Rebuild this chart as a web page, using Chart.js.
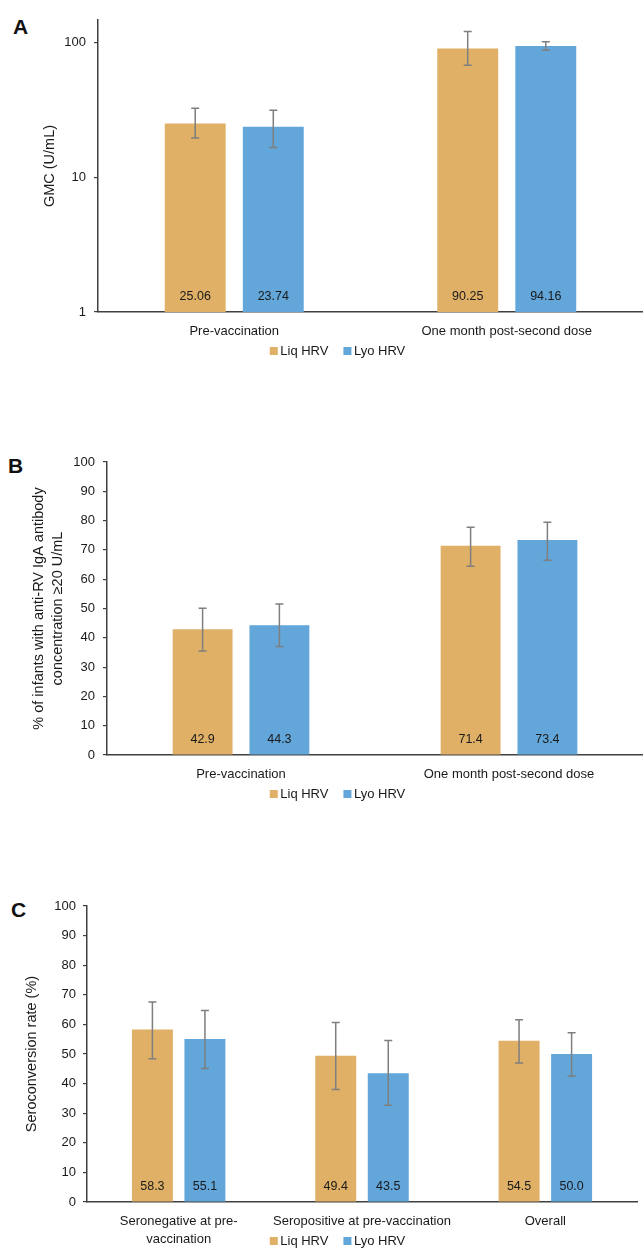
<!DOCTYPE html>
<html>
<head>
<meta charset="utf-8">
<script src="https://cdn.jsdelivr.net/npm/chart.js@4"></script>
<style>
  html, body { margin: 0; padding: 0; background: #fff; }
  #page { position: relative; width: 643px; height: 1250px; overflow: hidden; }
  .panel { position: absolute; left: 0; }
  .letter { position: absolute; font: bold 21px/21px Arial, "Liberation Sans", sans-serif; color: #111; }
</style>
</head>
<body>
<div id="page">
  <div class="letter" style="left:13px; top:16px;">A</div>
  <div class="letter" style="left:8px; top:455px;">B</div>
  <div class="letter" style="left:11px; top:899px;">C</div>
  <canvas id="chartA" class="panel" style="top:0px" width="643" height="370"></canvas>
  <canvas id="chartB" class="panel" style="top:420px" width="643" height="400"></canvas>
  <canvas id="chartC" class="panel" style="top:860px" width="643" height="390"></canvas>
</div>
<script>
const seriesNames = ['Liq HRV', 'Lyo HRV'];

// A: GMC
const visitLabels = ['Pre-vaccination', 'One month post-second dose'];
const liqGmc = [25.06, 90.25];
const lyoGmc = [23.74, 94.16];
const liqGmcLo = [19.6, 67.8];
const liqGmcHi = [32.5, 121];
const lyoGmcLo = [16.6, 87.7];
const lyoGmcHi = [31.4, 101.2];
const gmcTicks = [1, 10, 100];

// B: % >= 20 U/mL
const liqPct = [42.9, 71.4];
const lyoPct = [44.3, 73.4];
const liqPctLo = [35.5, 64.4];
const liqPctHi = [50.1, 77.7];
const lyoPctLo = [37.0, 66.5];
const lyoPctHi = [51.5, 79.4];

// C: seroconversion
const statusLabels = [['Seronegative at pre-', 'vaccination'], 'Seropositive at pre-vaccination', 'Overall'];
const liqSc = [58.3, 49.4, 54.5];
const lyoSc = [55.1, 43.5, 50.0];
const liqScLo = [48.4, 38.0, 47.0];
const liqScHi = [67.6, 60.6, 61.6];
const lyoScLo = [45.1, 32.7, 42.6];
const lyoScHi = [64.7, 54.6, 57.2];

const colors = ['#DFB066', '#62A6DA'];
const axisColor = '#404040';
const FONT = 'Arial, "Liberation Sans", sans-serif';

Chart.defaults.font.family = FONT;
Chart.defaults.font.size = 13;
Chart.defaults.color = '#1a1a1a';

const errorBars = {
  id: 'errorBars',
  afterDatasetsDraw(chart) {
    const ctx = chart.ctx, y = chart.scales.y;
    ctx.save();
    ctx.strokeStyle = '#7f7f7f';
    ctx.lineWidth = 1.5;
    chart.data.datasets.forEach((ds, i) => {
      chart.getDatasetMeta(i).data.forEach((bar, j) => {
        const top = y.getPixelForValue(ds.hi[j]);
        const bot = y.getPixelForValue(ds.lo[j]);
        ctx.beginPath();
        ctx.moveTo(bar.x, top); ctx.lineTo(bar.x, bot);
        ctx.moveTo(bar.x - 4, top); ctx.lineTo(bar.x + 4, top);
        ctx.moveTo(bar.x - 4, bot); ctx.lineTo(bar.x + 4, bot);
        ctx.stroke();
      });
    });
    ctx.restore();
  }
};

const valueLabels = {
  id: 'valueLabels',
  afterDatasetsDraw(chart, args, opts) {
    const ctx = chart.ctx, bottom = chart.chartArea.bottom;
    ctx.save();
    ctx.font = '12.5px ' + FONT;
    ctx.fillStyle = '#1a1a1a';
    ctx.textAlign = 'center';
    ctx.textBaseline = 'middle';
    chart.data.datasets.forEach((ds, i) => {
      chart.getDatasetMeta(i).data.forEach((bar, j) => {
        ctx.fillText(ds.data[j].toFixed(opts.digits), bar.x, bottom - 15.5);
      });
    });
    ctx.restore();
  }
};

const boxLegend = {
  id: 'boxLegend',
  afterDraw(chart, args, opts) {
    const ctx = chart.ctx;
    const y = chart.chartArea.bottom + 39;
    ctx.save();
    ctx.font = '13px ' + FONT;
    ctx.textBaseline = 'middle';
    const items = chart.data.datasets.map(ds => ({ label: ds.label, color: ds.backgroundColor, w: ctx.measureText(ds.label).width }));
    const box = 8, gap = 2.5, space = 15;
    let total = items.reduce((s, it) => s + box + gap + it.w, 0) + space * (items.length - 1);
    let x = opts.cx - total / 2;
    items.forEach(it => {
      ctx.fillStyle = it.color;
      ctx.fillRect(x, y - box / 2, box, box);
      ctx.fillStyle = '#1a1a1a';
      ctx.fillText(it.label, x + box + gap, y);
      x += box + gap + it.w + space;
    });
    ctx.restore();
  }
};

function makeDatasets(vals, los, his) {
  return seriesNames.map((name, i) => ({
    label: name,
    data: vals[i],
    lo: los[i],
    hi: his[i],
    backgroundColor: colors[i],
    borderWidth: 0,
    categoryPercentage: 0.573,
    barPercentage: 0.78
  }));
}

function makeChart(id, cfg) {
  return new Chart(document.getElementById(id), {
    type: 'bar',
    data: { labels: cfg.labels, datasets: cfg.datasets },
    plugins: [errorBars, valueLabels, boxLegend],
    options: {
      responsive: false,
      animation: false,
      layout: { padding: { top: cfg.top, right: cfg.right, left: 0, bottom: 0 } },
      plugins: {
        legend: { display: false },
        tooltip: { enabled: false },
        valueLabels: { digits: cfg.digits },
        boxLegend: { cx: 337.5 }
      },
      scales: {
        x: {
          grid: { display: false, drawTicks: false },
          border: { display: true, color: axisColor, width: 1.5 },
          ticks: { padding: 10.5, autoSkip: false, maxRotation: 0, font: { size: 13, lineHeight: 1.4 }, color: '#1a1a1a' },
          afterFit(s) { s.height = cfg.xHeight; }
        },
        y: Object.assign({
          grid: { drawOnChartArea: false, drawTicks: true, tickLength: 4, color: axisColor, lineWidth: 1.2 },
          border: { display: true, color: axisColor, width: 1.5 },
          ticks: { padding: cfg.tickPad, font: { size: 13 }, color: '#1a1a1a' },
          title: {
            display: true, text: cfg.title, color: '#1a1a1a',
            font: { size: 14.5, lineHeight: cfg.titleLH },
            padding: { top: cfg.titlePad, bottom: 0 }
          },
          afterFit(s) { s.width = cfg.yWidth; }
        }, cfg.y)
      }
    }
  });
}

makeChart('chartA', {
  labels: visitLabels,
  datasets: makeDatasets([liqGmc, lyoGmc], [liqGmcLo, lyoGmcLo], [liqGmcHi, lyoGmcHi]),
  top: 20, right: 0, xHeight: 58, yWidth: 98, tickPad: 8,
  title: 'GMC (U/mL)', titleLH: 1.2, titlePad: 41.3, digits: 2,
  y: {
    type: 'logarithmic', min: 1, max: 147,
    afterBuildTicks(s) { s.ticks = gmcTicks.map(v => ({ value: v })); }
  }
});

makeChart('chartB', {
  labels: visitLabels,
  datasets: makeDatasets([liqPct, lyoPct], [liqPctLo, lyoPctLo], [liqPctHi, lyoPctHi]),
  top: 42, right: 0, xHeight: 65, yWidth: 107, tickPad: 8,
  title: ['% of infants with anti-RV IgA antibody', 'concentration \u226520 U/mL'], titleLH: 1.3, titlePad: 29.5, digits: 1,
  y: { min: 0, max: 100, ticks: { stepSize: 10, padding: 8, font: { size: 13 }, color: '#1a1a1a' } }
});

makeChart('chartC', {
  labels: statusLabels,
  datasets: makeDatasets([liqSc, lyoSc], [liqScLo, lyoScLo], [liqScHi, lyoScHi]),
  top: 46, right: 6, xHeight: 48, yWidth: 87, tickPad: 7,
  title: 'Seroconversion rate (%)', titleLH: 1.2, titlePad: 23.3, digits: 1,
  y: { min: 0, max: 100, ticks: { stepSize: 10, padding: 7, font: { size: 13 }, color: '#1a1a1a' } }
});
</script>
</body>
</html>
